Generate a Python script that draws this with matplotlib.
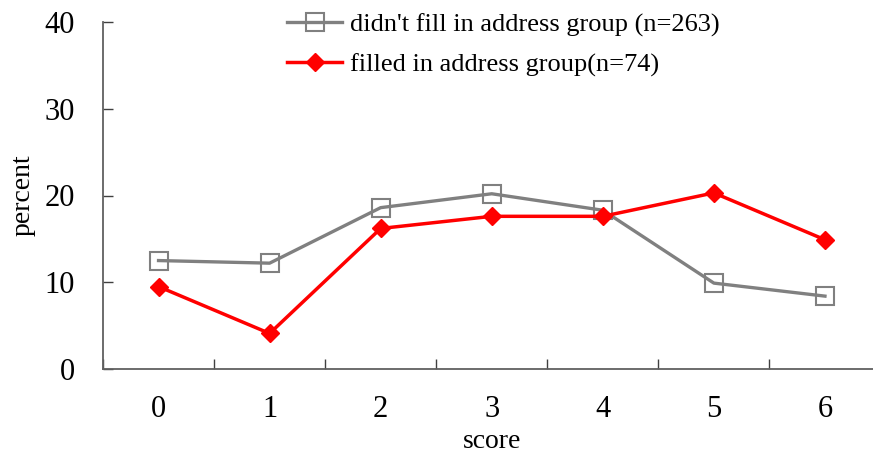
import numpy as np
import matplotlib.pyplot as plt
from matplotlib.ticker import FixedLocator

plt.rcParams['font.family'] = ['Liberation Serif', 'DejaVu Serif']

scores = [0, 1, 2, 3, 4, 5, 6]
not_filled = [12.5, 12.2, 18.6, 20.2, 18.3, 9.9, 8.4]
filled = [9.5, 4.1, 16.2, 17.6, 17.6, 20.3, 14.9]
label_not = "didn't fill in address group (n=263)"
label_filled = "filled in address group(n=74)"

fig = plt.figure(figsize=(8.73, 4.57), dpi=100)
ax = fig.add_axes([103 / 873, 88 / 457, 777.5 / 873, 347 / 457])

x = np.arange(len(scores))
ax.plot(x, not_filled, color='#808080', lw=2.4, marker='s', ms=12.5,
        mfc='none', mec='#808080', mew=1.5, label=label_not)
ax.plot(x, filled, color='#ff0000', lw=2.5, marker='D', ms=9,
        mfc='#ff0000', mec='#ff0000', label=label_filled)

ax.set_xlim(-0.5, 6.5)
ax.set_ylim(0, 40)
ax.set_yticks([0, 10, 20, 30, 40])
ax.set_xticks(x)
ax.set_xticklabels([str(s) for s in scores])
ax.xaxis.set_minor_locator(FixedLocator(np.arange(-0.5, 7, 1)))

ax.tick_params(axis='x', which='major', length=0, pad=19, labelsize=22)
ax.tick_params(axis='x', which='minor', direction='in', length=7, width=1, color='#404040')
ax.tick_params(axis='y', direction='in', length=7, width=1, color='#404040', pad=20, labelsize=22)

for s in ['top', 'right']:
    ax.spines[s].set_visible(False)
for s in ['left', 'bottom']:
    ax.spines[s].set_color('#606060')
    ax.spines[s].set_linewidth(1.3)

ax.set_xlabel('score', fontsize=20, labelpad=3)
ax.set_ylabel('percent', fontsize=20, labelpad=7)

leg = ax.legend(loc='upper left', bbox_to_anchor=(287 / 873, 1 - 13 / 457), bbox_transform=fig.transFigure,
                frameon=False, fontsize=19, handlelength=2.1, handletextpad=0.3,
                labelspacing=0.61, borderaxespad=0, borderpad=0)

fig.savefig('out.png', dpi=100)
